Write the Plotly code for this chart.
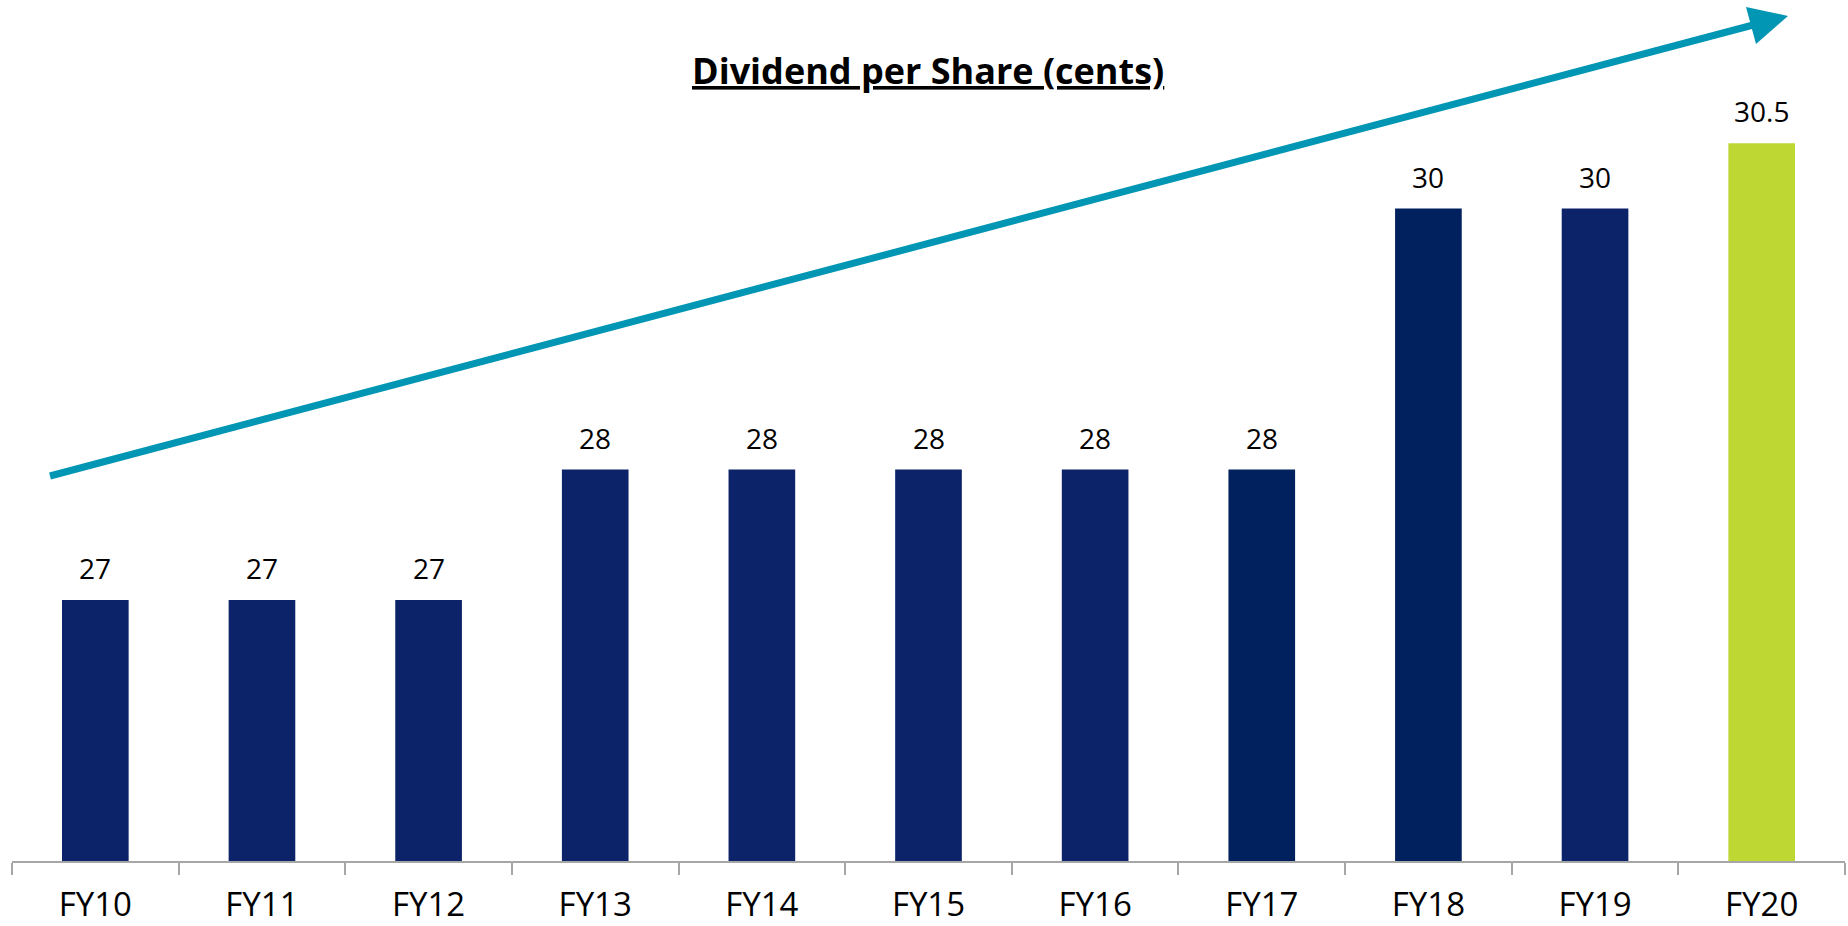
import plotly.graph_objects as go

# Dividend per share by financial year (cents)
years = ["FY10", "FY11", "FY12", "FY13", "FY14", "FY15", "FY16", "FY17", "FY18", "FY19", "FY20"]
dividends = [27, 27, 27, 28, 28, 28, 28, 28, 30, 30, 30.5]
value_labels = ["27", "27", "27", "28", "28", "28", "28", "28", "30", "30", "30.5"]
bar_colors = ["#0C2369", "#0C2369", "#0C2369", "#0C2369", "#0C2369", "#0C2369",
              "#0C2369", "#00205E", "#00205E", "#0C2369", "#BED732"]

W, H = 1848, 926
M_L, M_R, M_T, M_B = 12, 3, 0, 65
FONT = "Open Sans"

fig = go.Figure(
    go.Bar(
        x=years,
        y=dividends,
        marker=dict(color=bar_colors, line=dict(width=0)),
        hoverinfo="x+y",
    )
)

# value labels above each bar
for yr, val, lab in zip(years, dividends, value_labels):
    fig.add_annotation(
        x=yr, y=val, text=lab, showarrow=False,
        xanchor="center", yanchor="bottom", yshift=11,
        font=dict(family=FONT, size=28, color="#000000"),
    )

# helpers to place decorations in pixel terms on the paper
pw, ph = W - M_L - M_R, H - M_T - M_B
def px(x):
    return (x - M_L) / pw
def py(y):
    return (H - M_B - y) / ph

# trend arrow: shaft plus triangular head
tip = (1788, 16)
base_a, base_b = (1746, 7), (1756, 44)
base_mid = ((base_a[0] + base_b[0]) / 2, (base_a[1] + base_b[1]) / 2)
arrow_color = "#0096B4"
fig.add_shape(type="line", xref="paper", yref="paper",
              x0=px(50), y0=py(476), x1=px(base_mid[0] + 4), y1=py(base_mid[1] - 1),
              line=dict(color=arrow_color, width=7))
fig.add_shape(type="path", xref="paper", yref="paper",
              path=(f"M {px(tip[0])} {py(tip[1])} L {px(base_a[0])} {py(base_a[1])} "
                    f"L {px(base_b[0])} {py(base_b[1])} Z"),
              fillcolor=arrow_color, line=dict(width=0))

fig.add_annotation(
    text="<b><u>Dividend per Share (cents)</u></b>",
    xref="paper", yref="paper", x=px(928), y=py(70),
    xanchor="center", yanchor="middle", showarrow=False,
    font=dict(family=FONT, size=36, color="#000000"),
)

fig.update_layout(
    width=W, height=H,
    margin=dict(l=M_L, r=M_R, t=M_T, b=M_B),
    paper_bgcolor="white", plot_bgcolor="white",
    bargap=0.6,
    showlegend=False,
    font=dict(family=FONT),
)
fig.update_xaxes(
    showline=True, linecolor="#A6A6A6", linewidth=1.5,
    ticks="outside", tickson="boundaries", ticklen=12, tickcolor="#A6A6A6", tickwidth=1.5,
    tickfont=dict(family=FONT, size=33, color="#000000"),
    ticklabelstandoff=14,
    automargin=False,
    showgrid=False,
)
fig.update_yaxes(range=[25, 25 + (H - M_B - M_T) / 130.5], visible=False, showgrid=False,
                 automargin=False)

fig.write_html("out.html")
